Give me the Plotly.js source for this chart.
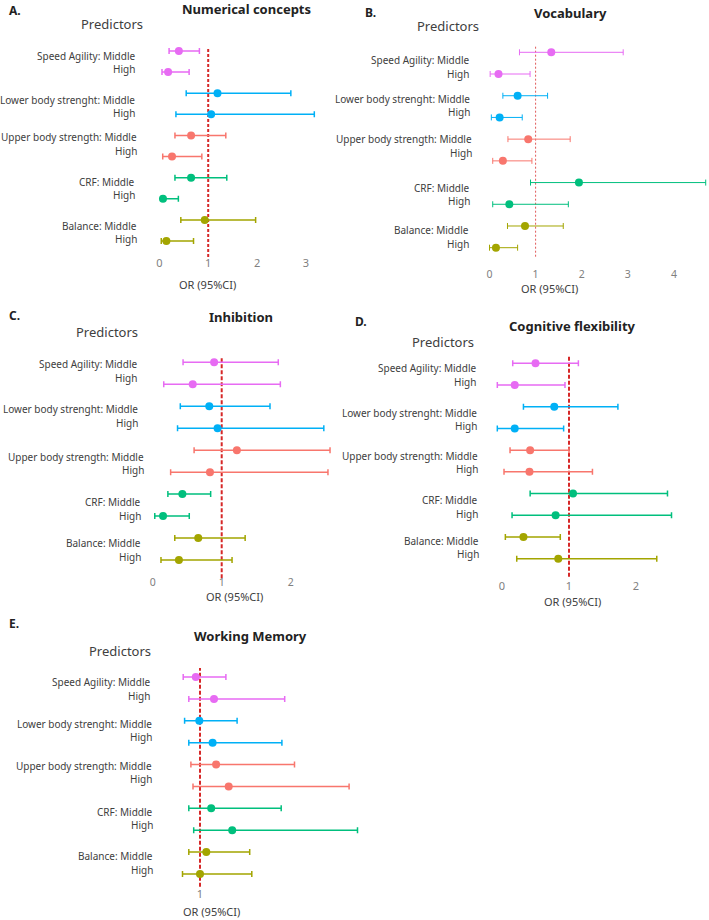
<!DOCTYPE html>
<html>
<head>
<meta charset="utf-8">
<script src="https://cdn.plot.ly/plotly-3.0.1.min.js"></script>
<style>html,body{margin:0;padding:0;background:#fff;}#chart{width:709px;height:920px;}</style>
</head>
<body>
<div id="chart"></div>
<script>
// ---------------- DATA ----------------
const predictors = ["Speed Agility", "Lower body strenght", "Upper body strength", "CRF", "Balance"];
const levels = ["Middle", "High"];
const panelLetters = ["A.", "B.", "C.", "D.", "E."];
const outcomes = ["Numerical concepts", "Vocabulary", "Inhibition", "Cognitive flexibility", "Working Memory"];
const axisTitle = "OR (95%CI)";
const predictorsHeader = "Predictors";

// order of rows: Speed Agility Middle, High, Lower Middle, High, Upper Middle, High, CRF Middle, High, Balance Middle, High
const numerical_or = [0.40, 0.18, 1.19, 1.06, 0.65, 0.26, 0.65, 0.075, 0.93, 0.145];
const numerical_lo = [0.20, 0.055, 0.55, 0.34, 0.32, 0.07, 0.32, 0.04, 0.44, 0.04];
const numerical_hi = [0.82, 0.61, 2.69, 3.17, 1.36, 0.87, 1.38, 0.39, 1.97, 0.70];

const vocab_or = [1.34, 0.195, 0.61, 0.22, 0.84, 0.29, 1.94, 0.43, 0.77, 0.14];
const vocab_lo = [0.65, 0.014, 0.29, 0.04, 0.40, 0.07, 0.89, 0.07, 0.39, 0.0];
const vocab_hi = [2.90, 0.88, 1.26, 0.71, 1.75, 0.92, 4.69, 1.71, 1.60, 0.61];

const inhib_or = [0.89, 0.58, 0.82, 0.94, 1.22, 0.83, 0.43, 0.15, 0.66, 0.38];
const inhib_lo = [0.44, 0.16, 0.40, 0.36, 0.60, 0.26, 0.22, 0.03, 0.32, 0.12];
const inhib_hi = [1.82, 1.85, 1.70, 2.48, 2.57, 2.54, 0.84, 0.53, 1.34, 1.15];

const cogflex_or = [0.50, 0.19, 0.78, 0.19, 0.42, 0.41, 1.06, 0.80, 0.32, 0.84];
const cogflex_lo = [0.16, -0.07, 0.32, -0.07, 0.12, 0.03, 0.42, 0.15, 0.05, 0.22];
const cogflex_hi = [1.14, 0.94, 1.73, 0.92, 1.00, 1.35, 2.47, 2.53, 0.87, 2.31];

const wm_or = [0.94, 1.20, 0.99, 1.18, 1.23, 1.41, 1.16, 1.46, 1.09, 1.00];
const wm_lo = [0.76, 0.84, 0.78, 0.84, 0.87, 0.90, 0.84, 0.91, 0.84, 0.75];
const wm_hi = [1.37, 2.21, 1.53, 2.17, 2.35, 3.13, 2.16, 3.25, 1.71, 1.74];

const xTicks = [[0, 1, 2, 3], [0, 1, 2, 3, 4], [0, 1, 2], [0, 1, 2], [1]];

// ---------------- STYLE / LAYOUT ----------------
const groupColors = ["#E76BF3", "#00B0F6", "#F8766D", "#00BF7D", "#A3A500"];
const W = 709, H = 920;
const px2x = p => p / W;
const px2y = p => 1 - p / H;

const panels = [
  { or: numerical_or, lo: numerical_lo, hi: numerical_hi,
    zeroPx: 159.3, ppu: 48.9, xdom: [145, 335], row0: 51, row9: 241, top: 40, bottom: 255, tickSize: 11,
    line: [49, 257], lineW: 2, lineDash: "3px,2px", lineColor: "#d62828", barW: 1.5,
    letter: [7, 10], title: [246, 9.5], pred: [112, 24], orl: [207, 285],
    labMid: [55.7, 100, 137.3, 181.7, 225.7], labRight: [137, 137, 139, 137, 139] },
  { or: vocab_or, lo: vocab_lo, hi: vocab_hi,
    zeroPx: 489.5, ppu: 46.1, xdom: [480, 709], row0: 52.3, row9: 247.7, top: 40, bottom: 266, tickSize: 10.5,
    line: [45, 256.7], lineW: 1, lineDash: "2px,2px", lineColor: "#e05a5a", barW: 1,
    letter: [363, 12], title: [570, 12.7], pred: [448.3, 26], orl: [549.3, 288],
    labMid: [60.3, 98.7, 139.3, 187.7, 230], labRight: [471.3, 472, 474, 471.7, 471] },
  { or: inhib_or, lo: inhib_lo, hi: inhib_hi,
    zeroPx: 152.7, ppu: 69, xdom: [145, 340], row0: 362.3, row9: 560, top: 350, bottom: 574, tickSize: 10.5,
    line: [356.7, 578.3], lineW: 2, lineDash: "4px,2px", lineColor: "#d62828", barW: 1.5,
    letter: [7, 315], title: [240.7, 317.3], pred: [106.7, 331.7], orl: [234.3, 596.5],
    labMid: [364, 409, 456.7, 502, 543.3], labRight: [139.3, 140, 146, 143.3, 143.3] },
  { or: cogflex_or, lo: cogflex_lo, hi: cogflex_hi,
    zeroPx: 502, ppu: 67, xdom: [490, 709], row0: 363.3, row9: 558.7, top: 350, bottom: 578, tickSize: 11,
    line: [356, 576.7], lineW: 2, lineDash: "4px,2px", lineColor: "#d62828", barW: 1.5,
    letter: [353, 321.7], title: [572.7, 326], pred: [443.3, 342.3], orl: [572.7, 601],
    labMid: [368.3, 412.7, 456, 500.3, 540.7], labRight: [477.7, 478.7, 480, 480, 480.7] },
  { or: wm_or, lo: wm_lo, hi: wm_hi,
    zeroPx: 130, ppu: 70, xdom: [170, 370], row0: 677, row9: 874, top: 665, bottom: 886, tickSize: 11,
    line: [668, 886.7], lineW: 2, lineDash: "4px,2px", lineColor: "#d62828", barW: 1.5,
    letter: [7, 623], title: [250, 636], pred: [120, 650.7], orl: [212, 911.7],
    labMid: [682.3, 723.7, 765.7, 811.7, 856], labRight: [152, 154, 154, 154.7, 155.3] }
];

const labelFont = { family: "Noto Sans, Open Sans, sans-serif", size: 10, color: "#404040" };
const rowKeys = [];
predictors.forEach(p => levels.forEach(l => rowKeys.push(p + ": " + l)));

const data = [];
const layout = {
  width: W, height: H, margin: { l: 0, r: 0, t: 0, b: 0 },
  paper_bgcolor: "#fff", plot_bgcolor: "rgba(0,0,0,0)",
  showlegend: false, annotations: [], shapes: []
};

panels.forEach((pn, k) => {
  const xa = "x" + (k + 1), ya = "y" + (k + 1);
  const xKey = "xaxis" + (k + 1), yKey = "yaxis" + (k + 1);
  predictors.forEach((p, g) => {
    const idx = [2 * g, 2 * g + 1];
    data.push({
      type: "scatter", mode: "markers", xaxis: xa, yaxis: ya,
      x: idx.map(i => pn.or[i]),
      y: idx.map(i => rowKeys[i]),
      marker: { color: groupColors[g], size: 8 },
      error_x: {
        type: "data", symmetric: false,
        array: idx.map(i => pn.hi[i] - pn.or[i]),
        arrayminus: idx.map(i => pn.or[i] - pn.lo[i]),
        color: groupColors[g], thickness: pn.barW, width: 3
      },
      hoverinfo: "x+y", cliponaxis: false
    });
  });
  const step = (pn.row9 - pn.row0) / 9;
  layout[xKey] = {
    domain: [px2x(pn.xdom[0]), px2x(pn.xdom[1])],
    range: [(pn.xdom[0] - pn.zeroPx) / pn.ppu, (pn.xdom[1] - pn.zeroPx) / pn.ppu],
    anchor: ya, tickvals: xTicks[k], ticktext: xTicks[k].map(String),
    showgrid: false, zeroline: false, showline: false, ticks: "",
    tickfont: { family: "Noto Sans, sans-serif", size: pn.tickSize, color: "#808080" },
    fixedrange: true
  };
  layout[yKey] = {
    domain: [px2y(pn.bottom), px2y(pn.top)],
    type: "category", categoryorder: "array", categoryarray: rowKeys,
    range: [9 + (pn.bottom - pn.row9) / step, -(pn.row0 - pn.top) / step],
    anchor: xa, showticklabels: false, showgrid: false, zeroline: false, showline: false, ticks: "",
    fixedrange: true
  };
  layout.shapes.push({
    type: "line", xref: xa, yref: "paper", x0: 1, x1: 1,
    y0: px2y(pn.line[1]), y1: px2y(pn.line[0]),
    line: { color: pn.lineColor, width: pn.lineW, dash: pn.lineDash }, layer: "below"
  });
  const ann = (text, xpx, ypx, font, xanchor) => layout.annotations.push({
    text, xref: "paper", yref: "paper", x: px2x(xpx), y: px2y(ypx),
    xanchor: xanchor || "center", yanchor: "middle", showarrow: false, font
  });
  ann("<b>" + panelLetters[k] + "</b>", pn.letter[0], pn.letter[1], { family: "Noto Sans, sans-serif", size: 12, color: "#222" }, "left");
  ann("<b>" + outcomes[k] + "</b>", pn.title[0], pn.title[1], { family: "Noto Sans, sans-serif", size: 13, color: "#222" });
  ann(predictorsHeader, pn.pred[0], pn.pred[1], { family: "Noto Sans, sans-serif", size: 13, color: "#404040" });
  ann(axisTitle, pn.orl[0], pn.orl[1], { family: "Noto Sans, sans-serif", size: 11, color: "#404040" });
  predictors.forEach((p, g) => {
    ann(p + ": " + levels[0], pn.labRight[g], pn.labMid[g], labelFont, "right");
    ann(levels[1], pn.labRight[g], pn.labMid[g] + 13.5, labelFont, "right");
  });
});

Plotly.newPlot("chart", data, layout, { displayModeBar: false, staticPlot: true });
</script>
</body>
</html>
